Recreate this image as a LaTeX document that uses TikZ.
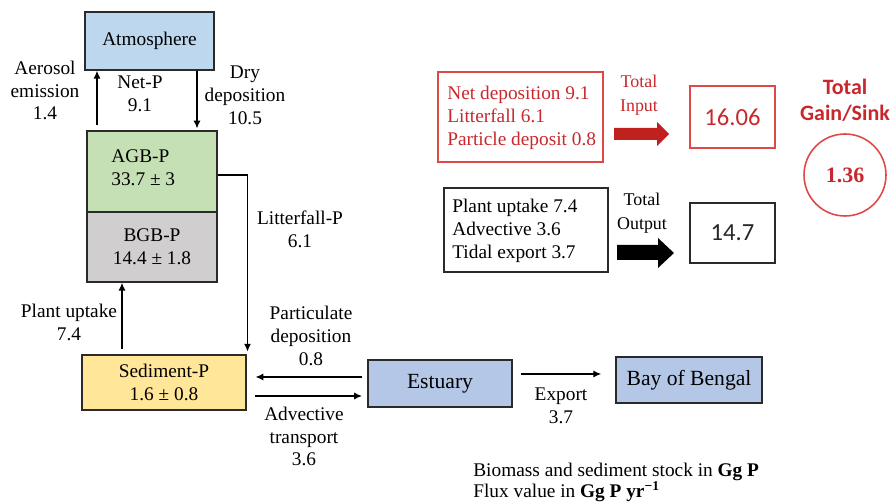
\documentclass[tikz,border=0pt]{standalone}
\usepackage{fontspec}
\setmainfont{Liberation Serif}
\newfontfamily\calib{Carlito}
\usetikzlibrary{arrows.meta}

\definecolor{atmfill}{HTML}{BDD7EE}
\definecolor{agbfill}{HTML}{C5E0B4}
\definecolor{bgbfill}{HTML}{D0CECE}
\definecolor{sedfill}{HTML}{FFE699}
\definecolor{watfill}{HTML}{B4C7E7}
\definecolor{sinkred}{HTML}{C8282D}
\definecolor{boxred}{HTML}{E04848}
\definecolor{arrred}{HTML}{C0201E}
\definecolor{edge}{HTML}{2A2A2A}

\begin{document}
\begin{tikzpicture}[x=0.02cm,y=-0.02cm,
  every node/.style={font=\fontsize{11}{13}\selectfont, inner sep=0pt},
  pool/.style={draw=edge, line width=0.75pt, rectangle, align=center},
  water/.style={pool, fill=watfill, font=\fontsize{12.3}{14}\selectfont},
  flux/.style={draw=black, line width=0.8pt, -{Latex[length=4.5pt,width=4pt]}},
  lbl/.style={align=center},
  tot/.style={align=center, font=\fontsize{10.2}{13.5}\selectfont},
  sumbox/.style={draw, line width=0.8pt, rectangle, minimum width=1.7cm,
                 font=\calib\fontsize{14}{16}\selectfont}]
\useasboundingbox (0,0) rectangle (895,502);

% ---- stocks ----
\node[pool, fill=atmfill, minimum width=2.58cm, minimum height=1.16cm] (atm) at (149.5,41) {Atmosphere};
\node[pool, fill=agbfill, minimum width=2.6cm, minimum height=1.62cm] (agb) at (152,171.5) {};
\node[align=left, anchor=west] (agbtxt) at (111,168) {AGB-P\\33.7 ± 3};
\node[pool, fill=bgbfill, minimum width=2.6cm, minimum height=1.4cm] (bgb) at (152,247) {BGB-P\\14.4 ± 1.8};
\node[pool, fill=sedfill, minimum width=3.28cm, minimum height=1.1cm] (sed) at (164,382.5) {Sediment-P\\1.6 ± 0.8};
\node[water, minimum width=2.88cm, minimum height=0.94cm] (est) at (440,383.5) {Estuary};
\node[water, minimum width=2.92cm, minimum height=0.92cm] (bay) at (689,380) {Bay of Bengal};

% ---- fluxes ----
\draw[flux, shorten <=3pt] (agb.north -| 97,0) -- (atm.south -| 97,0);
\draw[flux, shorten >=1pt] (atm.south -| 197,0) -- (agb.north -| 197,0);
\draw[flux] (agb.east |- 0,175) -| ([xshift=0.5pt,yshift=1.5pt]sed.north east);
\draw[flux, shorten <=3pt] (sed.north -| 122,0) -- (bgb.south -| 122,0);
\draw[flux, shorten <=3pt, shorten >=5pt] (est.west |- 0,377) -- (sed.east |- 0,377);
\draw[flux, shorten <=5pt, shorten >=3pt] (sed.east |- 0,396) -- (est.west |- 0,396);
\draw[flux, shorten <=5pt, shorten >=8pt] (est.east |- 0,374) -- (bay.west |- 0,374);

% ---- flux labels ----
\node[lbl] (aer) at (45,90.5) {Aerosol\\emission\\1.4};
\node[lbl] (netp) at (140,94) {Net-P\\9.1};
\node[lbl] (dry) at (245,95.5) {Dry\\deposition\\10.5};
\node[lbl] (litt) at (300,229) {Litterfall-P\\6.1};
\node[lbl] (upt) at (69,322.5) {Plant uptake\\7.4};
\node[lbl] (part) at (311,336) {Particulate\\deposition\\0.8};
\node[lbl] (adv) at (304,436.5) {Advective\\transport\\3.6};
\node[lbl] (exp) at (561,406) {Export\\3.7};

% ---- budget summary ----
\node[draw=boxred, line width=0.8pt, minimum width=3.3cm, minimum height=1.8cm] (inbox) at (520.5,117) {};
\node[align=left, anchor=west, text=sinkred] (intxt) at (447,118)
  {Net deposition 9.1\\Litterfall 6.1\\Particle deposit 0.8};
\node[draw=edge, line width=0.8pt, minimum width=3.28cm, minimum height=1.68cm] (outbox) at (526,230) {};
\node[align=left, anchor=west] (outtxt) at (452,231)
  {Plant uptake 7.4\\Advective 3.6\\Tidal export 3.7};

\node[tot, text=sinkred] (totin) at (639,95) {Total\\Input};
\node[tot] (totout) at (642,213.5) {Total\\Output};
\fill[arrred] (614,128) -- (657,128) -- (657,122) -- (669,134) -- (657,146) -- (657,140) -- (614,140) -- cycle;
\fill[black] (617,245) -- (658,245) -- (658,238) -- (674,253) -- (658,268) -- (658,260) -- (617,260) -- cycle;

\node[sumbox, draw=boxred, text=sinkred, minimum height=1.24cm] (sumin) at (732.5,117) {16.06};
\node[sumbox, draw=edge, text=black!85, minimum height=1.2cm] (sumout) at (732.5,233) {14.7};

\node[align=center, text=sinkred, font=\calib\bfseries\fontsize{12.5}{14.7}\selectfont] (gain) at (845,100) {Total\\Gain/Sink};
\node[circle, draw=boxred, line width=0.9pt, minimum size=1.64cm, text=sinkred,
      font=\bfseries\fontsize{12.5}{14}\selectfont] (sink) at (845,175) {1.36};

% ---- units ----
\node[align=left, anchor=west, font=\fontsize{11}{12}\selectfont] (units) at (473,482.5)
  {Biomass and sediment stock in \textbf{Gg P}\\Flux value in \textbf{Gg P yr\textsuperscript{−1}}};
\end{tikzpicture}
\end{document}
